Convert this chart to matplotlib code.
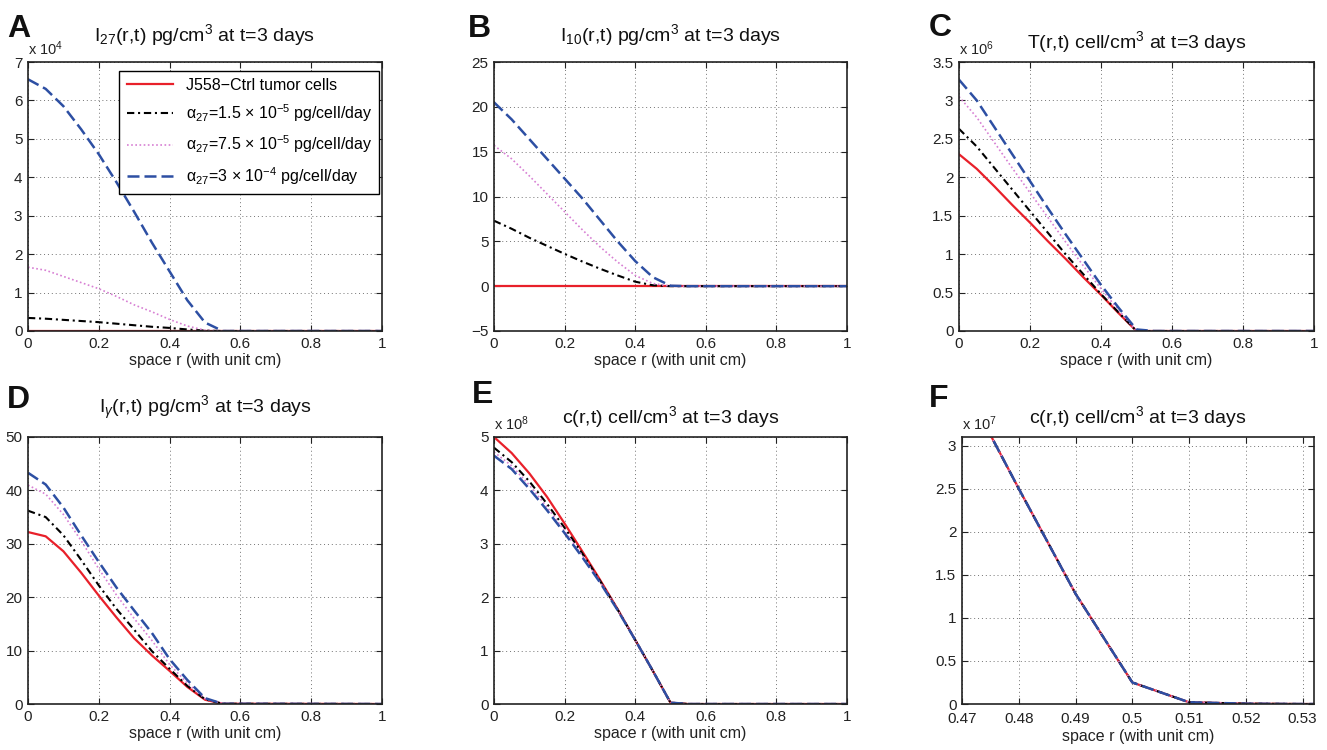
import matplotlib
matplotlib.use("Agg")
import matplotlib.pyplot as plt
from matplotlib.ticker import FuncFormatter

plt.rcParams['font.family'] = ['Liberation Sans', 'DejaVu Sans']
plt.rcParams['mathtext.fontset'] = 'custom'
plt.rcParams['mathtext.rm'] = 'Liberation Sans'
plt.rcParams['mathtext.it'] = 'Liberation Sans:italic'
plt.rcParams['mathtext.bf'] = 'Liberation Sans:bold'

# space grid (cm)
r = [0, 0.05, 0.1, 0.15, 0.2, 0.25, 0.3, 0.35, 0.4, 0.45, 0.5, 0.55, 1.0]

# A: I27 (x 1e4 pg/cm^3)
i27_ctrl = [0, 0, 0, 0, 0, 0, 0, 0, 0, 0, 0, 0, 0]
i27_a1 = [0.34, 0.32, 0.29, 0.26, 0.23, 0.19, 0.15, 0.11, 0.08, 0.04, 0.01, 0, 0]
i27_a2 = [1.66, 1.58, 1.42, 1.26, 1.1, 0.9, 0.68, 0.5, 0.3, 0.13, 0.02, 0, 0]
i27_a3 = [6.55, 6.3, 5.85, 5.25, 4.6, 3.87, 3.1, 2.3, 1.55, 0.8, 0.22, 0, 0]

# B: I10 (pg/cm^3)
i10_ctrl = [0, 0, 0, 0, 0, 0, 0, 0, 0, 0, 0, 0, 0]
i10_a1 = [7.3, 6.4, 5.4, 4.5, 3.6, 2.75, 1.95, 1.2, 0.5, 0.1, 0, 0, 0]
i10_a2 = [15.7, 14.2, 12.3, 10.3, 8.3, 6.3, 4.4, 2.7, 1.2, 0.3, 0, 0, 0]
i10_a3 = [20.5, 18.6, 16.4, 14.2, 12.0, 9.8, 7.4, 5.0, 2.8, 1.0, 0.05, 0, 0]

# C: T cells (x 1e6 cell/cm^3)
t_ctrl = [2.3, 2.11, 1.88, 1.64, 1.41, 1.17, 0.94, 0.7, 0.47, 0.23, 0, 0, 0]
t_a1 = [2.63, 2.4, 2.12, 1.84, 1.56, 1.28, 1.0, 0.74, 0.48, 0.24, 0, 0, 0]
t_a2 = [3.05, 2.78, 2.45, 2.12, 1.8, 1.48, 1.16, 0.85, 0.55, 0.27, 0, 0, 0]
t_a3 = [3.27, 3.0, 2.65, 2.3, 1.95, 1.6, 1.26, 0.93, 0.6, 0.3, 0.02, 0, 0]

# D: I gamma (pg/cm^3)
ig_ctrl = [32.2, 31.4, 28.6, 24.6, 20.3, 16.2, 12.3, 9.1, 6.2, 3.2, 0.8, 0.05, 0]
ig_a1 = [36.2, 35.0, 31.6, 27.0, 22.2, 17.8, 13.9, 9.9, 6.6, 3.4, 0.9, 0.05, 0]
ig_a2 = [41.0, 39.3, 35.5, 30.6, 25.3, 20.4, 16.0, 11.9, 7.4, 3.9, 1.0, 0.05, 0]
ig_a3 = [43.3, 41.1, 36.8, 31.6, 26.6, 21.8, 17.5, 13.3, 8.4, 4.5, 1.1, 0.05, 0]

# E: tumor cells c (x 1e8 cell/cm^3)
c_ctrl = [5.0, 4.7, 4.32, 3.88, 3.38, 2.86, 2.33, 1.78, 1.2, 0.62, 0.025, 0, 0]
c_a1 = [4.8, 4.53, 4.17, 3.75, 3.3, 2.82, 2.31, 1.77, 1.2, 0.62, 0.025, 0, 0]
c_a2 = [4.72, 4.46, 4.1, 3.69, 3.24, 2.78, 2.29, 1.77, 1.2, 0.62, 0.025, 0, 0]
c_a3 = [4.65, 4.4, 4.03, 3.63, 3.2, 2.75, 2.28, 1.76, 1.2, 0.62, 0.025, 0, 0]

# F: zoom on tumor edge (x 1e7 cell/cm^3), all cases overlap
r_f = [0.47, 0.48, 0.49, 0.5, 0.51, 0.52, 0.53, 0.54]
c_f = [3.75, 2.5, 1.28, 0.25, 0.02, 0.004, 0.0, 0.0]

labels = ["J558\u2212Ctrl tumor cells",
          "\u03b1$_{27}$=1.5 \u00d7 10$^{\u22125}$ pg/cell/day",
          "\u03b1$_{27}$=7.5 \u00d7 10$^{\u22125}$ pg/cell/day",
          "\u03b1$_{27}$=3 \u00d7 10$^{\u22124}$ pg/cell/day"]

styles = [dict(color="#e8202a", lw=1.6, ls="-"),
          dict(color="black", lw=1.5, ls=(0, (3.5, 1.8, 1, 1.8))),
          dict(color="#d77fd3", lw=1.2, ls=(0, (1, 1.5))),
          dict(color="#2d4fa3", lw=1.8, ls=(0, (4.8, 2)))]

W, H = 1327, 750


def g_fmt(v, pos):
    return ("%g" % v).replace("-", "\u2212")


def add_ax(fig, l, t, rr, b):
    return fig.add_axes([l / W, 1 - b / H, (rr - l) / W, (b - t) / H])


def style(ax, title, pad, xlim, ylim, xticks, yticks, scale=None, xpad=4):
    ax.set_xlim(*xlim)
    ax.set_ylim(*ylim)
    ax.set_xticks(xticks)
    ax.set_yticks(yticks)
    ax.xaxis.set_major_formatter(FuncFormatter(g_fmt))
    ax.yaxis.set_major_formatter(FuncFormatter(g_fmt))
    ax.tick_params(direction="in", top=True, right=True, length=4, width=0.8,
                   labelsize=11, pad=4, colors="#222222", labelcolor="#222222")
    ax.tick_params(axis="x", pad=xpad)
    ax.grid(True, ls=(0, (1, 3)), color="0.45", lw=0.7)
    for s in ax.spines.values():
        s.set_linewidth(1.2)
        s.set_color("#222222")
    ax.set_xlabel("space r (with unit cm)", fontsize=11.5, labelpad=2, color="#222222")
    ax.set_title(title, fontsize=14, pad=pad, color="#111111")
    if scale is not None:
        ax.text(0, 1.025, "x 10$^{%d}$" % scale, transform=ax.transAxes,
                ha="left", va="baseline", fontsize=10.5, color="#222222")


def draw(ax, xs, series):
    lines = []
    for ys, st in zip(series, styles):
        ln, = ax.plot(xs, ys, **st)
        lines.append(ln)
    return lines


fig = plt.figure(figsize=(W / 100, H / 100), dpi=100, facecolor="white")

x01 = (0, 1)
xt = [0, 0.2, 0.4, 0.6, 0.8, 1]

axA = add_ax(fig, 28, 62, 382, 331)
linesA = draw(axA, r, [i27_ctrl, i27_a1, i27_a2, i27_a3])
style(axA, "I$_{27}$(r,t) pg/cm$^3$ at t=3 days", 15, x01, (0, 7), xt, range(0, 8), scale=4)
leg = axA.legend(linesA, labels, loc="upper right", bbox_to_anchor=(0.992, 0.968),
                 borderaxespad=0, fontsize=11.5, handlelength=2.9, labelspacing=0.6,
                 fancybox=False, framealpha=1, edgecolor="black", borderpad=0.45)
leg.get_frame().set_linewidth(1.0)

axB = add_ax(fig, 494, 62, 847, 331)
draw(axB, r, [i10_ctrl, i10_a1, i10_a2, i10_a3])
style(axB, "I$_{10}$(r,t) pg/cm$^3$ at t=3 days", 15, x01, (-5, 25), xt, range(-5, 26, 5))

axC = add_ax(fig, 959, 62, 1314, 331)
draw(axC, r, [t_ctrl, t_a1, t_a2, t_a3])
style(axC, "T(r,t) cell/cm$^3$ at t=3 days", 10, x01, (0, 3.5), xt,
      [0, 0.5, 1, 1.5, 2, 2.5, 3, 3.5], scale=6)

axD = add_ax(fig, 28, 437, 382, 704)
draw(axD, r, [ig_ctrl, ig_a1, ig_a2, ig_a3])
style(axD, "I$_{\\gamma}$(r,t) pg/cm$^3$ at t=3 days", 17, x01, (0, 50), xt, range(0, 51, 10))

axE = add_ax(fig, 494, 437, 847, 704)
draw(axE, r, [c_ctrl, c_a1, c_a2, c_a3])
style(axE, "c(r,t) cell/cm$^3$ at t=3 days", 10, x01, (0, 5), xt, range(0, 6), scale=8)

axF = add_ax(fig, 962, 437, 1314, 704)
draw(axF, r_f, [c_f, c_f, c_f, c_f])
style(axF, "c(r,t) cell/cm$^3$ at t=3 days", 10, (0.47, 0.532), (0, 3.1),
      [0.47, 0.48, 0.49, 0.5, 0.51, 0.52, 0.53], [0, 0.5, 1, 1.5, 2, 2.5, 3],
      scale=7, xpad=6)

# panel letters
for letter, px, py in [("A", 7, 37), ("B", 468, 37), ("C", 929, 36),
                       ("D", 7, 408), ("E", 472, 403), ("F", 929, 407)]:
    fig.text(px / W, 1 - py / H, letter, fontsize=23, fontweight="bold",
             va="baseline", ha="left", color="#111111")

fig.savefig("out.png", dpi=100)
